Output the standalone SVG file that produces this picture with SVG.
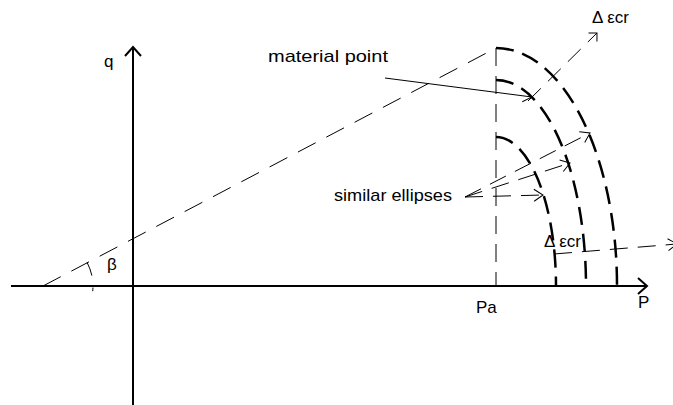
<svg xmlns="http://www.w3.org/2000/svg" width="673" height="405" viewBox="0 0 673 405">
<style>
  text { font-family: "Liberation Sans", Arial, sans-serif; font-size: 17px; fill: #000; }
  .axis { fill: none; stroke: #000; stroke-width: 2; }
  .ell { fill: none; stroke: #000; stroke-width: 2.5; stroke-dasharray: 18 9; }
  .thin { fill: none; stroke: #000; stroke-width: 1; }
  .dash { stroke-dasharray: 18 10; }
  .ldash { stroke-dasharray: 20 12; }
</style>
<defs>
  <marker id="axarrow" markerUnits="userSpaceOnUse" markerWidth="24" markerHeight="24" viewBox="-12 -12 24 24" refX="0" refY="0" orient="auto" overflow="visible">
    <path d="M-9,-8 L0,0 L-9,8" fill="none" stroke="#000" stroke-width="2"/>
  </marker>
  <marker id="arrow" markerUnits="userSpaceOnUse" markerWidth="24" markerHeight="24" viewBox="-12 -12 24 24" refX="0" refY="0" orient="auto" overflow="visible">
    <path d="M-9,-6 L0,0 L-9,6" fill="none" stroke="#000" stroke-width="1" stroke-dasharray="none"/>
  </marker>
  <marker id="arrow45" markerUnits="userSpaceOnUse" markerWidth="24" markerHeight="24" viewBox="-12 -12 24 24" refX="0" refY="0" orient="auto" overflow="visible">
    <path d="M-6,-6 L0,0 L-6,6" fill="none" stroke="#000" stroke-width="1" stroke-dasharray="none"/>
  </marker>
</defs>

<g id="axes">
  <path class="axis" d="M11,286 H647" marker-end="url(#axarrow)"/>
  <path class="axis" d="M133,405 V47" marker-end="url(#axarrow)"/>
</g>

<g id="ellipses">
  <path id="outer-ellipse" class="ell" d="M496,48 A121,238 0 0 1 617,286"/>
  <path id="middle-ellipse" class="ell" d="M496,80 A90,206 0 0 1 586,286"/>
  <path id="inner-ellipse" class="ell" d="M496,137 A60,149 0 0 1 556,286"/>
</g>

<g id="connectors">
  <path class="thin ldash" d="M43,286 L496,48"/>
  <path class="thin dash" d="M496,48 V286"/>
  <path class="thin" d="M87.1,262.5 A50,50 0 0 1 92.7,291.2" stroke-dasharray="14 12"/>
  <path class="thin" d="M385,78 L532,97" marker-end="url(#arrow)"/>
  <path class="thin dash" d="M528,101 L597,33" marker-end="url(#arrow45)"/>
  <path class="thin dash" d="M554,254 L677,244" marker-end="url(#arrow)"/>
  <path class="thin dash" d="M465,197 L543,195" marker-end="url(#arrow)"/>
  <path class="thin dash" d="M465,197 L570,163" marker-end="url(#arrow)"/>
  <path class="thin dash" d="M465,197 L590,133" marker-end="url(#arrow)"/>
</g>

<g id="label-q"><text x="104" y="67">q</text></g>
<g id="label-beta"><text x="107" y="270">β</text></g>
<g id="label-Pa"><text x="476" y="313">Pa</text></g>
<g id="label-P"><text x="638" y="308">P</text></g>
<g id="label-material-point"><text x="268" y="62" textLength="120" lengthAdjust="spacingAndGlyphs">material point</text></g>
<g id="label-similar-ellipses"><text x="334" y="201" textLength="118" lengthAdjust="spacingAndGlyphs">similar ellipses</text></g>
<g id="label-decr-top"><text x="592" y="23">Δ εcr</text></g>
<g id="label-decr-bottom"><text x="544" y="247" font-size="15">Δ εcr</text></g>
</svg>
